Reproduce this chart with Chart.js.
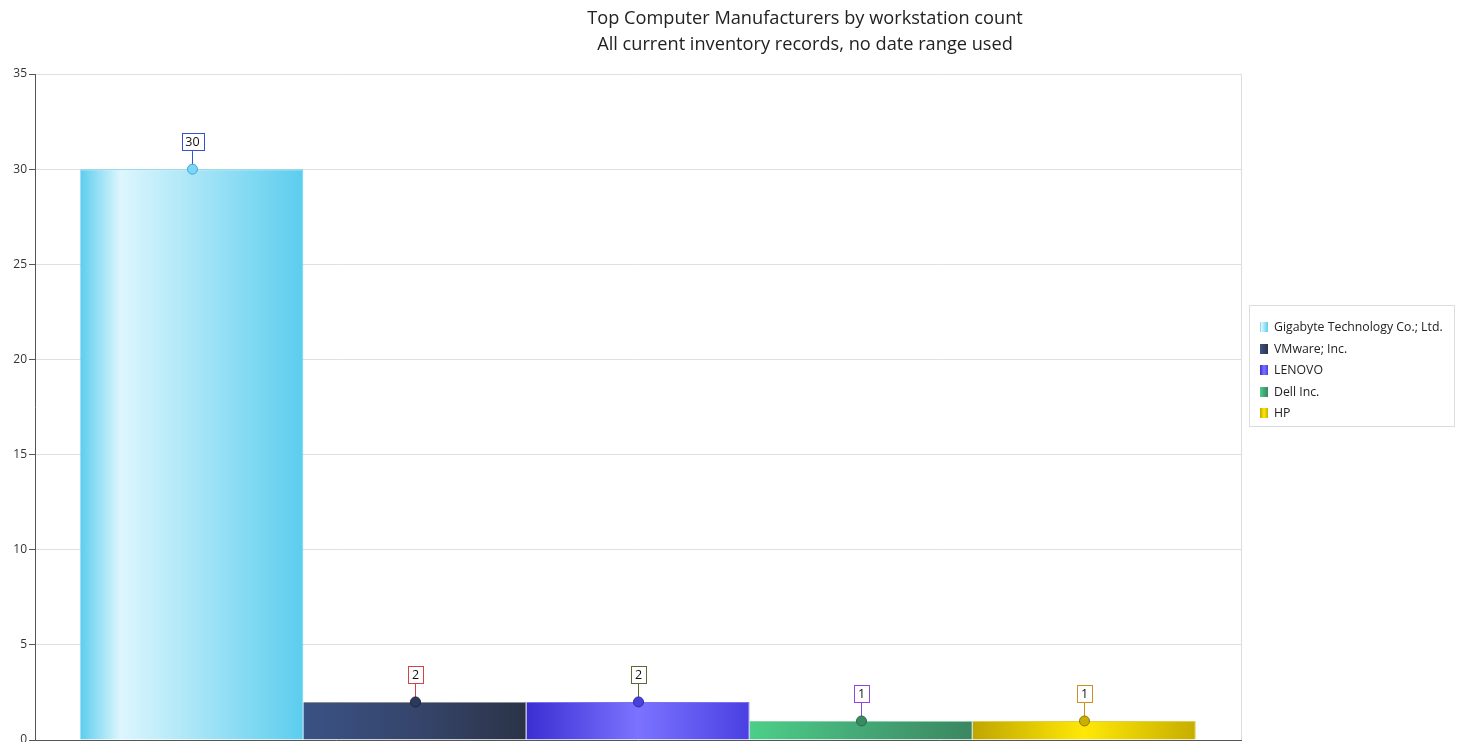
<!DOCTYPE html>
<html>
<head>
<meta charset="utf-8">
<script src="https://cdn.jsdelivr.net/npm/chart.js@4"></script>
<style>
    body { margin: 0; background: #fff; font-family: "Open Sans", sans-serif; }
    #wrap { position: relative; width: 1460px; height: 742px; }
    #legenda {
        position: absolute; left: 1249px; top: 305px; width: 204px; height: 120px;
        border: 1px solid #dcdcdc; box-sizing: content-box;
        font-size: 12.3px; color: #222;
    }
    #legenda .item { position: absolute; left: 10px; height: 14px; line-height: 14px; white-space: nowrap; }
    #legenda .cor { display: inline-block; width: 8px; height: 10px; vertical-align: -1px; margin-right: 6px; }
</style>
</head>
<body>
<div id="wrap">
    <canvas id="graficoFabricantes" width="1460" height="742"></canvas>
    <div id="legenda"></div>
</div>
<script>
const titulo = ["Top Computer Manufacturers by workstation count", "All current inventory records, no date range used"];
const fabricantes = ["Gigabyte Technology Co.; Ltd.", "VMware; Inc.", "LENOVO", "Dell Inc.", "HP"];
const quantidades = [30, 2, 2, 1, 1];
const ticksY = [0, 5, 10, 15, 20, 25, 30, 35];

// gradient stops per bar: left, middle, right
const gradientes = [
    [["#5ccdee", 0], ["#ddf6fd", 0.18], ["#5ccdee", 1]],
    [["#3a5284", 0], ["#35456c", 0.5], ["#2b3347", 1]],
    [["#3a2ed2", 0], ["#7b73ff", 0.5], ["#4a40e2", 1]],
    [["#4ccf88", 0], ["#45a877", 0.5], ["#3a8660", 1]],
    [["#c0a600", 0], ["#ffe806", 0.5], ["#c6ae00", 1]],
];
const bordas = ["#6ad2f0", "#8a8f99", "#7a70f0", "#8ad0aa", "#e0cc50"];
const marcadores = [["#7fd6f2", "#3aa8e0"], ["#2c3a5c", "#1c2438"], ["#4a40e0", "#2d2aa0"], ["#3a8a60", "#286a48"], ["#c8b000", "#907800"]];
const bordasRotulo = ["#3355cc", "#d04545", "#5a6b35", "#9045e0", "#d09020"];

const larguraGrupo = 0.925;

function fundoBarra(indice) {
    return (contexto) => {
        const grafico = contexto.chart;
        const area = grafico.chartArea;
        if (!area) return gradientes[indice][0][0];
        const largura = (area.right - area.left) * larguraGrupo;
        const inicio = (area.left + area.right) / 2 - largura / 2 + indice * largura / fabricantes.length;
        const fim = inicio + largura / fabricantes.length;
        const g = grafico.ctx.createLinearGradient(inicio, 0, fim, 0);
        gradientes[indice].forEach(([cor, pos]) => g.addColorStop(pos, cor));
        return g;
    };
}

const pluginRotulos = {
    id: "rotulos",
    afterDatasetsDraw(grafico) {
        const ctx = grafico.ctx;
        ctx.save();
        grafico.data.datasets.forEach((dataset, i) => {
            const barra = grafico.getDatasetMeta(i).data[0];
            const x = Math.round(barra.x) + 0.5;
            const y = barra.y;
            // line + marker
            ctx.strokeStyle = bordasRotulo[i];
            ctx.lineWidth = 1;
            ctx.beginPath();
            ctx.moveTo(x, y - 18);
            ctx.lineTo(x, y - 4);
            ctx.stroke();
            ctx.beginPath();
            ctx.arc(x, y, 5, 0, Math.PI * 2);
            ctx.fillStyle = marcadores[i][0];
            ctx.fill();
            ctx.strokeStyle = marcadores[i][1];
            ctx.stroke();
            // boxed label
            ctx.font = "12.5px 'Open Sans', sans-serif";
            const texto = String(dataset.data[0]);
            const w = Math.round(ctx.measureText(texto).width) + 8;
            const h = 17;
            const bx = Math.round(x - w / 2) + 0.5;
            const by = Math.round(y - 19 - h) + 0.5;
            ctx.fillStyle = "#fff";
            ctx.fillRect(bx, by, w, h);
            ctx.strokeStyle = bordasRotulo[i];
            ctx.strokeRect(bx, by, w, h);
            ctx.fillStyle = "#111";
            ctx.textAlign = "center";
            ctx.textBaseline = "middle";
            ctx.fillText(texto, x, by + h / 2 + 0.5);
        });
        ctx.restore();
    },
    afterDraw(grafico) {
        const ctx = grafico.ctx;
        ctx.save();
        ctx.font = "18.2px 'Open Sans', sans-serif";
        ctx.fillStyle = "#222";
        ctx.textAlign = "center";
        ctx.textBaseline = "middle";
        ctx.fillText(titulo[0], 805, 19);
        ctx.fillText(titulo[1], 805, 45);
        ctx.restore();
    },
};

const canvasGrafico = document.getElementById("graficoFabricantes");
const graficoFabricantes = new Chart(canvasGrafico, {
    type: "bar",
    data: {
        labels: [""],
        datasets: fabricantes.map((nome, i) => ({
            label: nome,
            data: [quantidades[i]],
            backgroundColor: fundoBarra(i),
            borderColor: bordas[i],
            borderWidth: { top: 1, left: 0, right: 1, bottom: 0 },
            barPercentage: 1,
            categoryPercentage: larguraGrupo,
        })),
    },
    options: {
        responsive: false,
        animation: false,
        layout: { padding: { top: 74, right: 219, bottom: 2, left: 0 } },
        plugins: {
            legend: { display: false },
            title: { display: false },
            tooltip: { enabled: false },
        },
        scales: {
            x: {
                afterFit: (eixo) => { eixo.height = 0; },
                ticks: { display: false },
                grid: { color: "#dcdcdc", drawTicks: false, offset: true },
                border: { color: "#555", width: 1 },
            },
            y: {
                min: 0,
                max: 35,
                afterBuildTicks: (eixo) => { eixo.ticks = ticksY.map((v) => ({ value: v })); },
                afterFit: (eixo) => {
                    eixo.width = 35;
                    eixo.paddingTop = 0;
                    eixo.paddingBottom = 0;
                },
                ticks: { color: "#333", padding: 2, font: { family: "'Open Sans', sans-serif", size: 12 } },
                grid: { color: "#e0e0e0", tickColor: "#555", tickLength: 6 },
                border: { color: "#555", width: 1 },
            },
        },
    },
    plugins: [pluginRotulos],
});

// html legend
const legenda = document.getElementById("legenda");
fabricantes.forEach((nome, i) => {
    const item = document.createElement("div");
    item.className = "item";
    item.style.top = (14 + i * 21.5) + "px";
    const stops = gradientes[i].map(([cor, pos]) => cor + " " + pos * 100 + "%").join(", ");
    item.innerHTML = '<span class="cor" style="background: linear-gradient(to right, ' + stops + ')"></span>' + nome;
    legenda.appendChild(item);
});
</script>
</body>
</html>
